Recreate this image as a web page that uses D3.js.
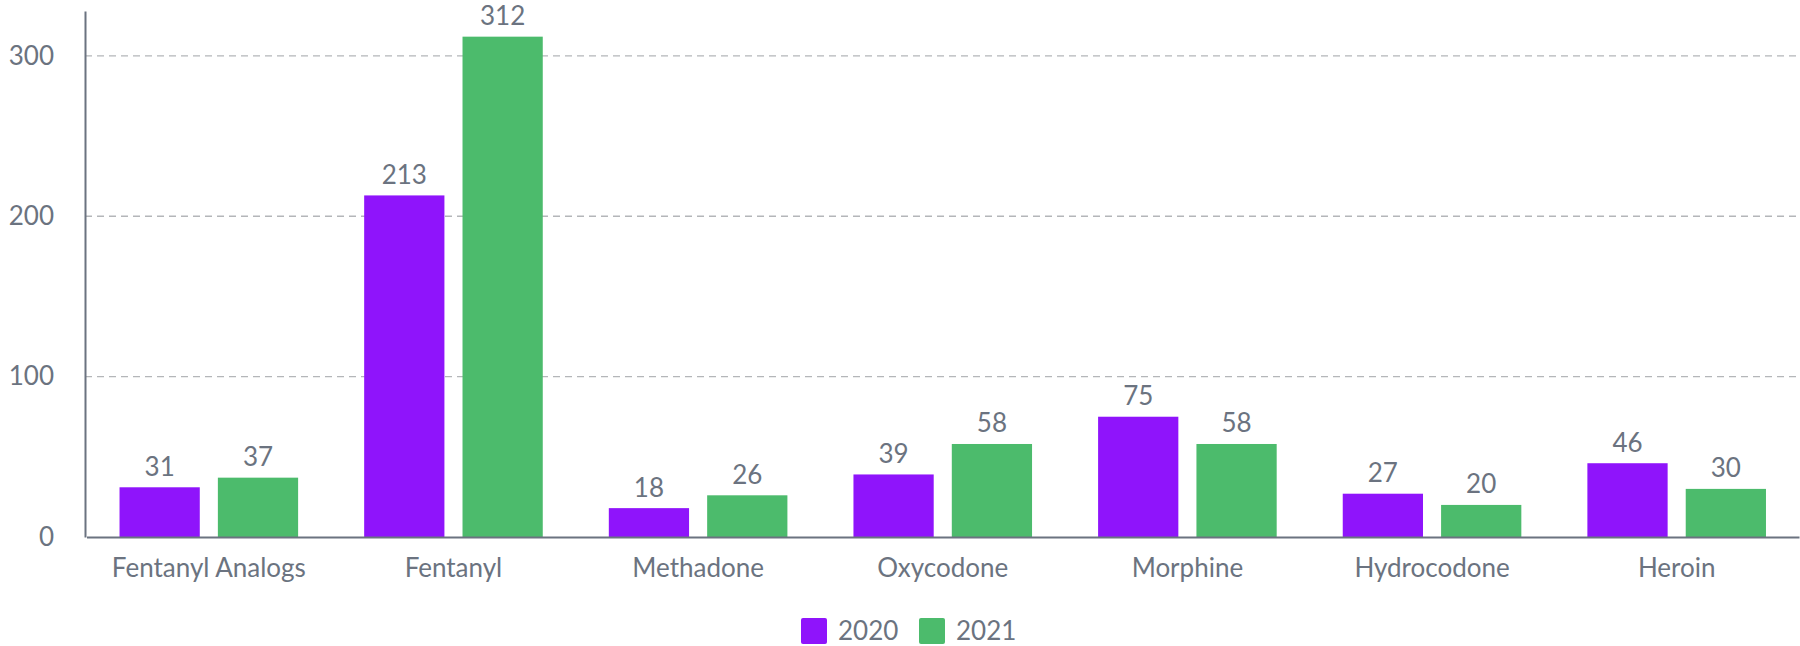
<!DOCTYPE html>
<html>
<head>
<meta charset="utf-8">
<script src="https://cdn.jsdelivr.net/npm/d3@7"></script>
<style>
  body { margin: 0; background: #fff; }
  text { font-family: Lato, "Noto Sans", sans-serif; }
</style>
</head>
<body>
<div id="chart"></div>
<script>
// Data
const categories = ['Fentanyl Analogs', 'Fentanyl', 'Methadone', 'Oxycodone', 'Morphine', 'Hydrocodone', 'Heroin'];
const years = ['2020', '2021'];
const values2020 = [31, 213, 18, 39, 75, 27, 46];
const values2021 = [37, 312, 26, 58, 58, 20, 30];
const yTicks = [0, 100, 200, 300];

const colors = { '2020': '#8f14fb', '2021': '#4cbb6c' };
const textColor = '#6b7380';

const width = 1800;
const height = 646;
const margin = { top: 11, right: 2, bottom: 109, left: 85 };

const svg = d3.select('#chart')
    .append('svg')
    .attr('width', width)
    .attr('height', height);

// Scales
const x0 = d3.scaleBand()
    .domain(categories)
    .range([margin.left + 1.5, width - margin.right + 1])
    .paddingInner(0.27)
    .paddingOuter(0.135);

const x1 = d3.scaleBand()
    .domain(years)
    .range([0, x0.bandwidth()])
    .paddingInner(0.184);

const y = d3.scaleLinear()
    .domain([0, 328])
    .range([height - margin.bottom, margin.top]);

// Gridlines
svg.append('g')
    .selectAll('line')
    .data(yTicks.filter(d => d > 0))
    .enter()
    .append('line')
    .attr('x1', margin.left)
    .attr('x2', width - margin.right)
    .attr('y1', d => y(d))
    .attr('y2', d => y(d))
    .attr('stroke', '#b4b6b9')
    .attr('stroke-width', 1.3)
    .attr('stroke-dasharray', '7,5');

// Bars
const rows = categories.map((c, i) => ({ category: c, '2020': values2020[i], '2021': values2021[i] }));

const groups = svg.append('g')
    .selectAll('g')
    .data(rows)
    .enter()
    .append('g')
    .attr('transform', d => `translate(${x0(d.category)},0)`);

groups.selectAll('rect')
    .data(d => years.map(k => ({ key: k, value: d[k] })))
    .enter()
    .append('rect')
    .attr('x', d => x1(d.key))
    .attr('y', d => y(d.value))
    .attr('width', x1.bandwidth())
    .attr('height', d => y(0) - y(d.value))
    .attr('fill', d => colors[d.key]);

groups.selectAll('text')
    .data(d => years.map(k => ({ key: k, value: d[k] })))
    .enter()
    .append('text')
    .attr('x', d => x1(d.key) + x1.bandwidth() / 2)
    .attr('y', d => y(d.value) - 11.5)
    .attr('text-anchor', 'middle')
    .attr('fill', textColor)
    .style('font-size', '26px')
    .text(d => d.value);

// Axes
const yAxis = svg.append('g')
    .attr('transform', `translate(${margin.left},0)`)
    .call(d3.axisLeft(y).tickValues(yTicks).tickSize(0).tickPadding(31));
yAxis.select('.domain').attr('stroke', textColor).attr('stroke-width', 2);
yAxis.selectAll('text').attr('fill', textColor).style('font-size', '26px');

const xAxis = svg.append('g')
    .attr('transform', `translate(0,${y(0)})`)
    .call(d3.axisBottom(x0).tickSize(0).tickPadding(22));
xAxis.select('.domain').attr('stroke', textColor).attr('stroke-width', 2);
xAxis.selectAll('text').attr('fill', textColor).style('font-size', '26px');

// Legend
const legend = svg.append('g')
    .attr('transform', 'translate(801,618)');

const legendItems = legend.selectAll('g')
    .data(years)
    .enter()
    .append('g')
    .attr('transform', (d, i) => `translate(${i * 118},0)`);

legendItems.append('rect')
    .attr('width', 26)
    .attr('height', 26)
    .attr('rx', 2)
    .attr('fill', d => colors[d]);

legendItems.append('text')
    .attr('x', 37)
    .attr('y', 22)
    .attr('fill', textColor)
    .style('font-size', '26px')
    .text(d => d);
</script>
</body>
</html>
